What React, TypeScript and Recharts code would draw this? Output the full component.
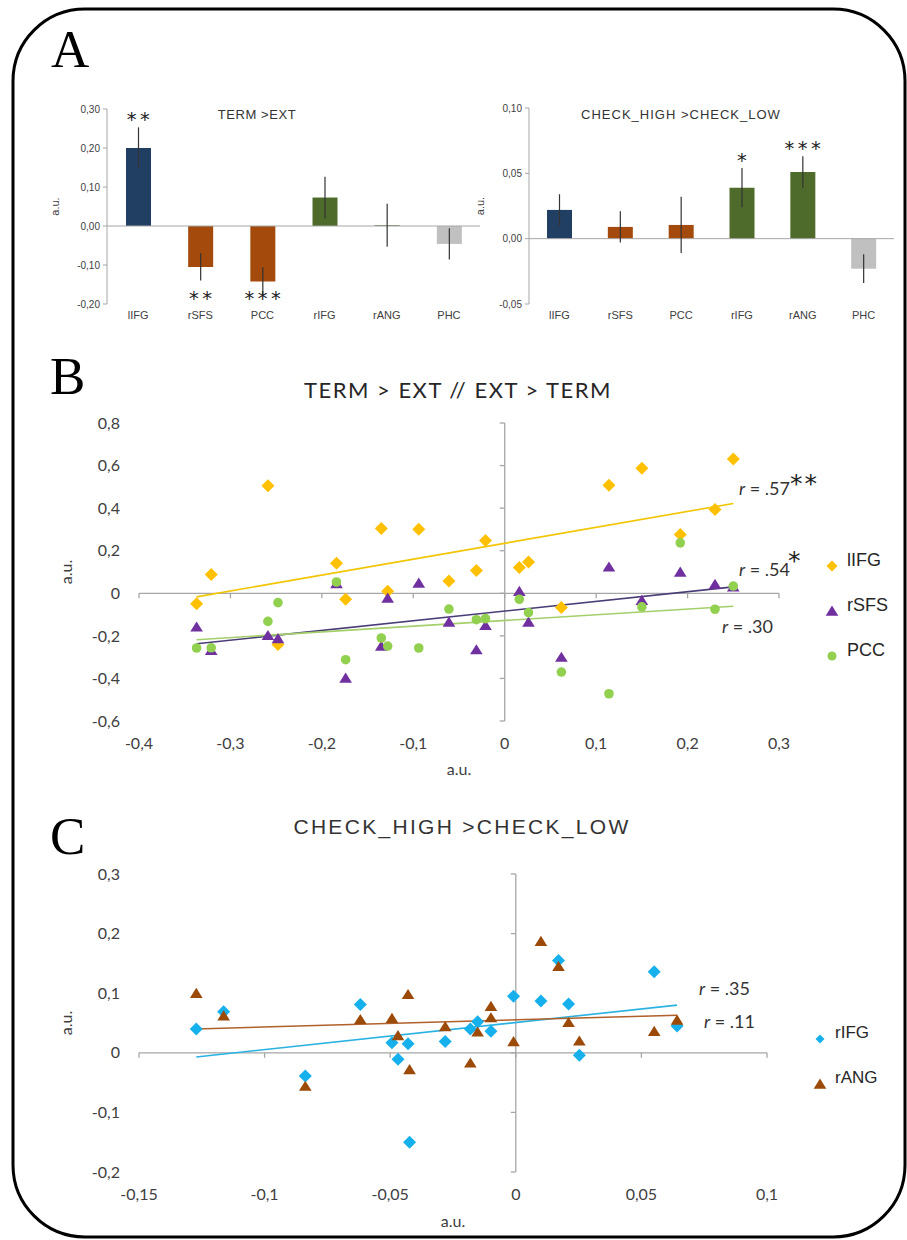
import React from 'react';
import {
  BarChart, Bar, XAxis, YAxis, ReferenceLine, ErrorBar, Cell, LabelList,
  ScatterChart, Scatter, Legend,
} from 'recharts';

// ---- panel A: mean contrast values per region ----
const regions = ['lIFG', 'rSFS', 'PCC', 'rIFG', 'rANG', 'PHC'];
const regionColors = ['#213f63', '#a44a0c', '#a44a0c', '#4e6b2b', '#4e6b2b', '#c0c0c0'];

const termExt = [0.2, -0.105, -0.142, 0.073, 0.002, -0.046];
const termExtErr = [0.053, 0.035, 0.036, 0.053, 0.055, 0.04];
const termExtSig = ['**', '**', '***', '', '', ''];
const termExtTicks = [-0.2, -0.1, 0, 0.1, 0.2, 0.3];

const checkHL = [0.022, 0.009, 0.0105, 0.039, 0.051, -0.023];
const checkHLErr = [0.012, 0.012, 0.0215, 0.015, 0.012, 0.011];
const checkHLSig = ['', '', '', '*', '***', ''];
const checkHLTicks = [-0.05, 0, 0.05, 0.1];

// ---- panel B: TERM > EXT // EXT > TERM ----
const xB = [-0.337, -0.321, -0.259, -0.248, -0.184, -0.174, -0.135, -0.128, -0.094, -0.061,
  -0.031, -0.021, 0.016, 0.026, 0.062, 0.114, 0.15, 0.192, 0.23, 0.25];
const lIFG_B = [-0.049, 0.088, 0.505, -0.241, 0.141, -0.028, 0.304, 0.009, 0.301, 0.058,
  0.107, 0.248, 0.121, 0.147, -0.067, 0.508, 0.587, 0.276, 0.394, 0.631];
const rSFS_B = [-0.158, -0.268, -0.198, -0.213, 0.046, -0.398, -0.248, -0.022, 0.048, -0.135,
  -0.265, -0.151, 0.009, -0.135, -0.3, 0.124, -0.033, 0.1, 0.042, 0.03];
const PCC_B = [-0.257, -0.256, -0.132, -0.044, 0.053, -0.312, -0.21, -0.248, -0.257, -0.074,
  -0.124, -0.119, -0.028, -0.091, -0.37, -0.472, -0.064, 0.237, -0.075, 0.034];
// fitted line ends (at min and max x)
const trendLIFG_B = [-0.017, 0.422];
const trendRSFS_B = [-0.237, 0.03];
const trendPCC_B = [-0.218, -0.061];
const xTicksB = [-0.4, -0.3, -0.2, -0.1, 0, 0.1, 0.2, 0.3];
const yTicksB = [-0.6, -0.4, -0.2, 0, 0.2, 0.4, 0.6, 0.8];

// ---- panel C: CHECK_HIGH > CHECK_LOW ----
const xRIFG_C = [-0.1272, -0.1163, -0.0838, -0.0619, -0.0493, -0.0469, -0.0429, -0.0423, -0.0281,
  -0.0181, -0.0152, -0.0099, -0.0009, 0.01, 0.017, 0.021, 0.0253, 0.0551, 0.0642];
const rIFG_C = [0.04, 0.069, -0.039, 0.081, 0.017, -0.011, 0.015, -0.15, 0.019,
  0.04, 0.052, 0.036, 0.095, 0.087, 0.155, 0.082, -0.004, 0.136, 0.045];
const xRANG_C = [-0.1272, -0.1163, -0.0838, -0.0619, -0.0493, -0.0469, -0.0429, -0.0423, -0.0281,
  -0.0181, -0.0152, -0.0099, -0.0099, -0.0009, 0.01, 0.017, 0.021, 0.0253, 0.0551, 0.0642];
const rANG_C = [0.1, 0.062, -0.056, 0.056, 0.058, 0.029, 0.098, -0.028, 0.044,
  -0.017, 0.035, 0.078, 0.059, 0.019, 0.187, 0.145, 0.051, 0.02, 0.036, 0.055];
const trendRIFG_C = [-0.007, 0.08];
const trendRANG_C = [0.04, 0.063];
const xTicksC = [-0.15, -0.1, -0.05, 0, 0.05, 0.1];
const yTicksC = [-0.2, -0.1, 0, 0.1, 0.2, 0.3];

const AXIS = '#a6a6a6';
const TXT = '#404040';
const SANS = '"Liberation Sans", Arial, sans-serif';
const NUM = 'Lato, "Open Sans", sans-serif';

const comma = (v: number, d?: number) => (d === undefined ? String(v) : v.toFixed(d)).replace('.', ',');

// marker shapes
const diamond = (cx: number, cy: number, s: number, fill: string) => (
  <polygon points={`${cx},${cy - s} ${cx + s},${cy} ${cx},${cy + s} ${cx - s},${cy}`} fill={fill} />
);
const triangle = (cx: number, cy: number, s: number, fill: string) => (
  <polygon points={`${cx},${cy - s} ${cx + s * 1.15},${cy + s * 0.85} ${cx - s * 1.15},${cy + s * 0.85}`} fill={fill} />
);
const circle = (cx: number, cy: number, s: number, fill: string) => <circle cx={cx} cy={cy} r={s} fill={fill} />;

// stars: above the error bar for positive bars, near the foot of the axis for negative ones
const starLabel = (vals: number[], errs: number[], yMin: number) => (p: any) => {
  const { x, y, width, height, index, value } = p;
  if (!value) return null;
  const v = vals[index];
  const top = Math.min(y, y + height);
  const ppu = Math.abs(height) / Math.abs(v);
  const e = errs[index] * ppu;
  const cy = v >= 0 ? top - e - 12 : top + -yMin * ppu - 10;
  return (
    <text x={x + width / 2 + 1.5} y={cy + 10.5} textAnchor="middle" fontSize={19.5} letterSpacing={3.5}
      fontFamily='"DejaVu Sans", sans-serif' fill="#222">{value}</text>
  );
};

function BarPanel(props: {
  values: number[]; errors: number[]; sig: string[]; domain: [number, number]; ticks: number[];
  width: number; margin: any; yWidth: number; labelOffset: number;
}) {
  const { values, errors, sig, domain, ticks, width, margin, yWidth, labelOffset } = props;
  const data = regions.map((region, i) => ({ region, value: values[i], err: errors[i], sig: sig[i] }));
  return (
    <BarChart width={width} height={240} data={data} margin={margin}>
      <XAxis dataKey="region" axisLine={false} tickLine={false} tickSize={0} tickMargin={7} height={26}
        interval={0} tick={{ fontSize: 11, fill: TXT, fontFamily: SANS }} />
      <YAxis type="number" domain={domain} ticks={ticks} width={yWidth} allowDataOverflow
        axisLine={{ stroke: AXIS }} tickLine={{ stroke: AXIS }} tickSize={4} tickMargin={3}
        tickFormatter={(v: number) => comma(v, 2)} tick={{ fontSize: 10, fill: TXT, fontFamily: SANS }}
        label={{ value: 'a.u.', angle: -90, position: 'insideLeft', offset: labelOffset,
          style: { textAnchor: 'middle', fontSize: 11, fill: TXT, fontFamily: SANS } }} />
      <ReferenceLine y={0} stroke={AXIS} />
      <Bar dataKey="value" barSize={25} isAnimationActive={false}>
        {data.map((d, i) => <Cell key={d.region} fill={regionColors[i]} />)}
        <ErrorBar dataKey="err" width={0} stroke="#333" strokeWidth={1.2} />
        <LabelList dataKey="sig" content={starLabel(values, errors, domain[0])} />
      </Bar>
    </BarChart>
  );
}

type Series = { name: string; xs: number[]; ys: number[]; color: string; shape: typeof diamond; size: number };

function legendBox(series: Series[], sizes: number[], fontSize: number) {
  return () => (
    <div style={{ fontFamily: SANS }}>
      {series.map((s, i) => (
        <div key={s.name} style={{ display: 'flex', alignItems: 'center', height: 45 }}>
          <svg width={18} height={18} style={{ marginTop: 12 }}>{s.shape(9, 9, sizes[i], s.color)}</svg>
          <span style={{ marginLeft: 6, fontSize, color: '#262626', lineHeight: 1 }}>{s.name}</span>
        </div>
      ))}
    </div>
  );
}

function ScatterPanel(props: {
  series: Series[]; trends: { color: string; ends: number[]; xs: number[] }[];
  xDomain: [number, number]; yDomain: [number, number]; xTicks: number[]; yTicks: number[];
  height: number; margin: any; legendTop: number; legendLeft: number; legendSizes: number[];
  legendFont: number; xLabelOffset: number;
}) {
  const { series, trends, xDomain, yDomain, xTicks, yTicks, height, margin, legendTop, legendLeft, legendSizes, legendFont, xLabelOffset } = props;
  const plotW = 850 - margin.left - margin.right - 73;
  const plotH = height - margin.top - 60;
  const dx = ((xDomain[1] - xDomain[0]) * 5) / plotW;
  const dy = ((yDomain[1] - yDomain[0]) * 5) / plotH;
  const tickStyle = { fontSize: 16, fill: TXT, fontFamily: NUM };
  return (
    <ScatterChart width={850} height={height} margin={margin}>
      <XAxis type="number" dataKey="x" domain={xDomain} ticks={xTicks} allowDataOverflow axisLine={false}
        tickLine={false} tickSize={0} tickMargin={17} height={60} tickFormatter={(v: number) => comma(v)} tick={tickStyle}
        label={{ value: 'a.u.', position: 'insideBottom', offset: xLabelOffset, style: { fontSize: 16, fill: TXT, fontFamily: NUM } }} />
      <YAxis type="number" dataKey="y" domain={yDomain} ticks={yTicks} allowDataOverflow axisLine={false}
        tickLine={false} tickSize={0} tickMargin={19} width={73} tickFormatter={(v: number) => comma(v)} tick={tickStyle}
        label={{ value: 'a.u.', angle: -90, position: 'insideLeft', offset: 0,
          style: { textAnchor: 'middle', fontSize: 16, fill: TXT, fontFamily: NUM } }} />
      <ReferenceLine x={0} stroke={AXIS} strokeWidth={1.3} />
      <ReferenceLine y={0} stroke={AXIS} strokeWidth={1.3} />
      {yTicks.map((t) => (
        <ReferenceLine key={'yt' + t} segment={[{ x: -dx, y: t }, { x: 0, y: t }]} stroke={AXIS} strokeWidth={1.3} />
      ))}
      {xTicks.map((t) => (
        <ReferenceLine key={'xt' + t} segment={[{ x: t, y: 0 }, { x: t, y: -dy }]} stroke={AXIS} strokeWidth={1.3} />
      ))}
      {series.map((s) => (
        <Scatter key={s.name} name={s.name} data={s.xs.map((x, i) => ({ x, y: s.ys[i] }))} fill={s.color}
          isAnimationActive={false} shape={(p: any) => s.shape(p.cx, p.cy, s.size, s.color)} />
      ))}
      {trends.map((t, i) => (
        <ReferenceLine key={'tr' + i} segment={[{ x: Math.min(...t.xs), y: t.ends[0] }, { x: Math.max(...t.xs), y: t.ends[1] }]}
          stroke={t.color} strokeWidth={1.6} />
      ))}
      <Legend layout="vertical" align="center" verticalAlign="middle"
        wrapperStyle={{ position: 'absolute', left: legendLeft, top: legendTop, width: 110 }}
        content={legendBox(series, legendSizes, legendFont)} />
    </ScatterChart>
  );
}

const seriesB: Series[] = [
  { name: 'lIFG', xs: xB, ys: lIFG_B, color: '#ffc000', shape: diamond, size: 6.5 },
  { name: 'rSFS', xs: xB, ys: rSFS_B, color: '#7030a0', shape: triangle, size: 5.5 },
  { name: 'PCC', xs: xB, ys: PCC_B, color: '#92d050', shape: circle, size: 4.8 },
];
const seriesC: Series[] = [
  { name: 'rIFG', xs: xRIFG_C, ys: rIFG_C, color: '#16b0ec', shape: diamond, size: 6.5 },
  { name: 'rANG', xs: xRANG_C, ys: rANG_C, color: '#9c4a08', shape: triangle, size: 5.5 },
];

const abs = (left: number, top: number): React.CSSProperties => ({ position: 'absolute', left, top });

export default function App() {
  return (
    <div style={{ position: 'absolute', left: 0, top: 0, width: 907, height: 1240, background: '#fff', overflow: 'hidden' }}>
      <div style={abs(40, 90)}>
        <BarPanel values={termExt} errors={termExtErr} sig={termExtSig} domain={[-0.2, 0.3]} ticks={termExtTicks}
          width={440} margin={{ top: 19, right: 0, bottom: 0, left: 7 }} yWidth={60} labelOffset={8} />
      </div>
      <div style={abs(470, 90)}>
        <BarPanel values={checkHL} errors={checkHLErr} sig={checkHLSig} domain={[-0.05, 0.1]} ticks={checkHLTicks}
          width={430} margin={{ top: 18, right: 6, bottom: 0, left: 0 }} yWidth={59} labelOffset={10} />
      </div>
      <div style={abs(50, 400)}>
        <ScatterPanel series={seriesB}
          trends={[
            { color: '#f2c500', ends: trendLIFG_B, xs: xB },
            { color: '#4b3d78', ends: trendRSFS_B, xs: xB },
            { color: '#a4cf6a', ends: trendPCC_B, xs: xB },
          ]}
          xDomain={[-0.4, 0.3]} yDomain={[-0.6, 0.8]} xTicks={xTicksB} yTicks={yTicksB} height={381}
          margin={{ top: 23, right: 121, bottom: 0, left: 16 }} legendLeft={773} legendTop={137}
          legendSizes={[5.5, 5.5, 4.5]} legendFont={18} xLabelOffset={6} />
      </div>
      <div style={abs(50, 850)}>
        <ScatterPanel series={seriesC}
          trends={[
            { color: '#2ab2e2', ends: trendRIFG_C, xs: xRIFG_C },
            { color: '#b0602a', ends: trendRANG_C, xs: xRANG_C },
          ]}
          xDomain={[-0.15, 0.1]} yDomain={[-0.2, 0.3]} xTicks={xTicksC} yTicks={yTicksC} height={382}
          margin={{ top: 24, right: 133, bottom: 0, left: 16 }} legendLeft={761} legendTop={160}
          legendSizes={[4.5, 5.5]} legendFont={17} xLabelOffset={5} />
      </div>
      <svg width={907} height={1240} style={{ position: 'absolute', left: 0, top: 0, pointerEvents: 'none' }}>
        <rect x={13} y={9} width={892} height={1228} rx={72} ry={72} fill="none" stroke="#000" strokeWidth={3} />
        <g fontFamily='"Liberation Serif", "Times New Roman", serif' fontSize={53} fill="#000">
          <text x={51} y={67}>A</text>
          <text x={50} y={394}>B</text>
          <text x={50} y={854}>C</text>
        </g>
        <g fontFamily={SANS} fill="#333" textAnchor="middle">
          <text x={257} y={119} fontSize={13} letterSpacing={0.6}>TERM &gt;EXT</text>
          <text x={681} y={119} fontSize={13} letterSpacing={1}>CHECK_HIGH &gt;CHECK_LOW</text>
          <text x={462} y={834} fontSize={21} letterSpacing={2.3}>CHECK_HIGH &gt;CHECK_LOW</text>
        </g>
        <text x={458} y={398} textAnchor="middle" fontFamily={NUM} fontSize={22} letterSpacing={1.5} fill="#262626">TERM &gt; EXT // EXT &gt; TERM</text>
        <g fontFamily={NUM} fontSize={18} fill="#333">
          <text x={739} y={495}><tspan fontStyle="italic">r</tspan> = .57</text>
          <text x={739} y={576}><tspan fontStyle="italic">r</tspan> = .54</text>
          <text x={722} y={633}><tspan fontStyle="italic">r</tspan> = .30</text>
          <text x={699} y={995}><tspan fontStyle="italic">r</tspan> = .35</text>
          <text x={704} y={1028}><tspan fontStyle="italic">r</tspan> = .11</text>
        </g>
        <g fontFamily='"DejaVu Sans", sans-serif' fontSize={25} fill="#222">
          <text x={790} y={492} letterSpacing={2}>**</text>
          <text x={788} y={569}>*</text>
        </g>
      </svg>
    </div>
  );
}
